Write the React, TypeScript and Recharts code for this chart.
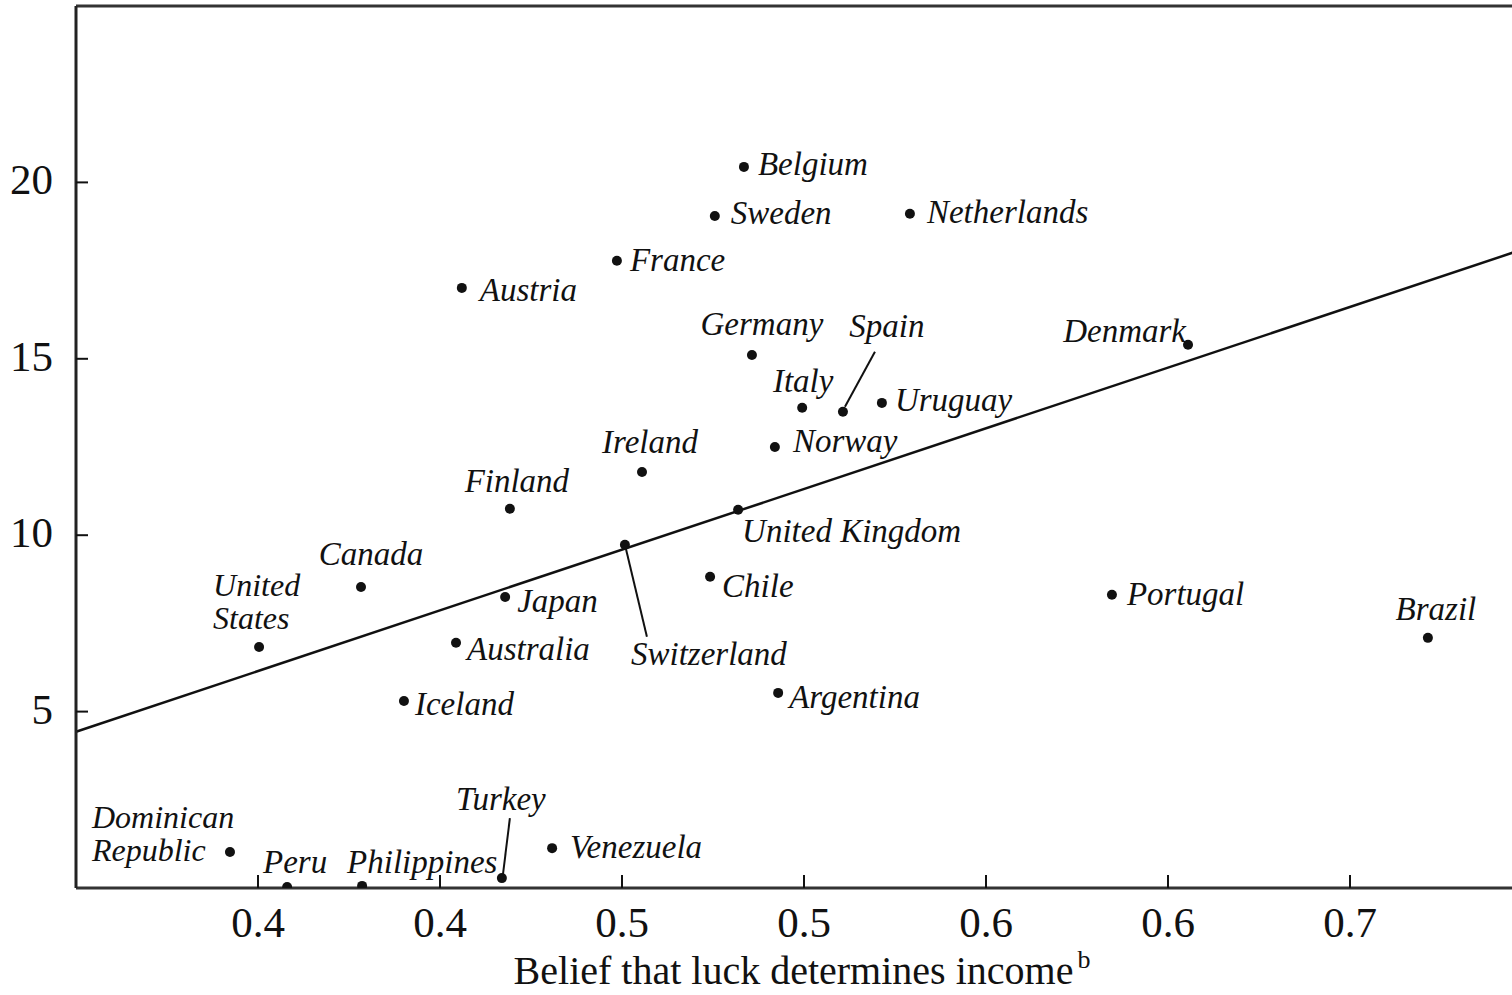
import React from 'react';
import { ScatterChart, Scatter, XAxis, YAxis, ReferenceLine, Label } from 'recharts';

// ---------- data ----------
const countries = [
  'Belgium', 'Sweden', 'Netherlands', 'France', 'Austria', 'Germany', 'Spain', 'Italy',
  'Uruguay', 'Denmark', 'Norway', 'Ireland', 'Finland', 'United Kingdom', 'Switzerland',
  'Chile', 'Canada', 'United States', 'Japan', 'Australia', 'Iceland', 'Argentina',
  'Portugal', 'Brazil', 'Dominican Republic', 'Peru', 'Philippines', 'Turkey', 'Venezuela',
];
const luckBelief = [
  0.4835, 0.4755, 0.5291, 0.4486, 0.4060, 0.4857, 0.5107, 0.4995,
  0.5214, 0.6055, 0.4920, 0.4555, 0.4192, 0.4819, 0.4508,
  0.4742, 0.3783, 0.3503, 0.4179, 0.4044, 0.3901, 0.4929,
  0.5846, 0.6714, 0.3423, 0.3580, 0.3786, 0.4170, 0.4308,
];
const socialSpending = [
  20.44, 19.05, 19.11, 17.78, 17.01, 15.11, 13.50, 13.61,
  13.75, 15.40, 12.50, 11.79, 10.75, 10.72, 9.73,
  8.82, 8.53, 6.83, 8.25, 6.95, 5.30, 5.53,
  8.31, 7.09, 1.02, 0.03, 0.06, 0.28, 1.13,
];
const xTicks = [0.35, 0.40, 0.45, 0.50, 0.55, 0.60, 0.65];
const xTickLabels = ['0.4', '0.4', '0.5', '0.5', '0.6', '0.6', '0.7'];
const yTicks = [5, 10, 15, 20];
const yTickLabels = ['5', '10', '15', '20'];
const fitLine = [
  { x: 0.30, y: 4.43 },
  { x: 0.70, y: 18.19 },
];
const xTitle = 'Belief that luck determines income';
const xTitleNote = 'b';

const data = countries.map((name, i) => ({ name, x: luckBelief[i], y: socialSpending[i] }));

// ---------- label layout (style, not data) ----------
type Place = {
  anchor: 'start' | 'middle' | 'end';
  dx: number;
  dy: number;
  split?: boolean;
  gap?: number;
  leader?: [number, number, number, number];
};
const placement: Record<string, Place> = {
  Belgium: { anchor: 'start', dx: 14, dy: 8 },
  Sweden: { anchor: 'start', dx: 16, dy: 8 },
  Netherlands: { anchor: 'start', dx: 17, dy: 9 },
  France: { anchor: 'start', dx: 13, dy: 10 },
  Austria: { anchor: 'start', dx: 18, dy: 13 },
  Germany: { anchor: 'middle', dx: 10, dy: -20 },
  Spain: { anchor: 'middle', dx: 44, dy: -75, leader: [32, -60, 2, -5] },
  Italy: { anchor: 'middle', dx: 1, dy: -16 },
  Uruguay: { anchor: 'start', dx: 13, dy: 8 },
  Denmark: { anchor: 'end', dx: -2, dy: -3 },
  Norway: { anchor: 'start', dx: 18, dy: 5 },
  Ireland: { anchor: 'middle', dx: 8, dy: -19 },
  Finland: { anchor: 'middle', dx: 7, dy: -17 },
  'United Kingdom': { anchor: 'start', dx: 4, dy: 32 },
  Switzerland: { anchor: 'middle', dx: 84, dy: 120, leader: [1, 4, 22, 92] },
  Chile: { anchor: 'start', dx: 12, dy: 20 },
  Canada: { anchor: 'middle', dx: 10, dy: -22 },
  'United States': { anchor: 'start', dx: -46, dy: -51, split: true, gap: 33 },
  Japan: { anchor: 'start', dx: 12, dy: 15 },
  Australia: { anchor: 'start', dx: 11, dy: 17 },
  Iceland: { anchor: 'start', dx: 11, dy: 14 },
  Argentina: { anchor: 'start', dx: 11, dy: 15 },
  Portugal: { anchor: 'start', dx: 15, dy: 10 },
  Brazil: { anchor: 'middle', dx: 8, dy: -18 },
  'Dominican Republic': { anchor: 'start', dx: -138, dy: -24, split: true, gap: 33 },
  Peru: { anchor: 'middle', dx: 8, dy: -14 },
  Philippines: { anchor: 'start', dx: -15, dy: -13 },
  Turkey: { anchor: 'middle', dx: -1, dy: -68, leader: [8, -60, 1, -3] },
  Venezuela: { anchor: 'start', dx: 18, dy: 10 },
};

const SERIF = '"Liberation Serif", "Times New Roman", "DejaVu Serif", serif';
const INK = '#111';

const PointWithLabel = (props: any) => {
  const { cx, cy, payload } = props;
  if (cx == null || cy == null) return null;
  const p = placement[payload.name] || { anchor: 'start', dx: 12, dy: 8 };
  const lines: string[] = p.split ? payload.name.split(' ') : [payload.name];
  const fs = p.split ? 32 : 33;
  return (
    <g>
      <circle cx={cx} cy={cy} r={5} fill={INK} />
      {p.leader && (
        <line
          x1={cx + p.leader[0]}
          y1={cy + p.leader[1]}
          x2={cx + p.leader[2]}
          y2={cy + p.leader[3]}
          stroke={INK}
          strokeWidth={2}
        />
      )}
      {lines.map((ln, k) => (
        <text
          key={k}
          x={cx + p.dx}
          y={cy + p.dy + k * (p.gap || 0)}
          textAnchor={p.anchor}
          fontFamily={SERIF}
          fontStyle="italic"
          fontSize={fs}
          fill={INK}
        >
          {ln}
        </text>
      ))}
    </g>
  );
};

const XTick = (props: any) => {
  const { x, y, payload } = props;
  let idx = 0;
  let best = Infinity;
  xTicks.forEach((t, i) => {
    const d = Math.abs(t - payload.value);
    if (d < best) {
      best = d;
      idx = i;
    }
  });
  return (
    <g>
      <line x1={x} y1={y} x2={x} y2={y - 13} stroke={INK} strokeWidth={2} />
      <text x={x} y={y + 49} textAnchor="middle" fontFamily={SERIF} fontSize={43} fill={INK}>
        {xTickLabels[idx]}
      </text>
    </g>
  );
};

const YTick = (props: any) => {
  const { x, y, payload } = props;
  const idx = yTicks.indexOf(payload.value);
  return (
    <g>
      <line x1={x} y1={y} x2={x + 12} y2={y} stroke={INK} strokeWidth={2} />
      <text x={x - 23} y={y + 12} textAnchor="end" fontFamily={SERIF} fontSize={43} fill={INK}>
        {idx >= 0 ? yTickLabels[idx] : payload.value}
      </text>
    </g>
  );
};

const XTitle = (props: any) => {
  const vb = props.viewBox || { x: 76, y: 888, width: 1456, height: 107 };
  const cx = vb.x + vb.width / 2 - 2;
  const y = vb.y + 96;
  return (
    <text x={cx} y={y} textAnchor="middle" fontFamily={SERIF} fontSize={40} fill={INK}>
      {xTitle}
      <tspan dx={4} dy={-16} fontSize={26}>
        {xTitleNote}
      </tspan>
    </text>
  );
};

export default function App() {
  return (
    <div
      style={{
        position: 'absolute',
        left: 0,
        top: 0,
        width: 1512,
        height: 995,
        overflow: 'hidden',
        background: '#fff',
      }}
    >
      <ScatterChart width={1545} height={995} margin={{ top: 6, right: 13, bottom: 0, left: 0 }}>
        <XAxis
          type="number"
          dataKey="x"
          domain={[0.3, 0.7]}
          ticks={xTicks}
          allowDataOverflow
          height={107}
          tickSize={0}
          tickMargin={0}
          axisLine={{ stroke: '#333', strokeWidth: 3 }}
          tickLine={false}
          tick={<XTick />}
          interval={0}
        >
          <Label content={<XTitle />} />
        </XAxis>
        <YAxis
          type="number"
          dataKey="y"
          domain={[0, 25]}
          ticks={yTicks}
          allowDataOverflow
          width={76}
          tickSize={0}
          tickMargin={0}
          axisLine={{ stroke: '#222', strokeWidth: 3 }}
          tickLine={false}
          tick={<YTick />}
          interval={0}
        />
        <ReferenceLine y={25} stroke="#333" strokeWidth={3} />
        <ReferenceLine
          segment={fitLine}
          stroke={INK}
          strokeWidth={2.5}
          ifOverflow="visible"
        />
        <Scatter data={data} isAnimationActive={false} shape={<PointWithLabel />} />
      </ScatterChart>
    </div>
  );
}
